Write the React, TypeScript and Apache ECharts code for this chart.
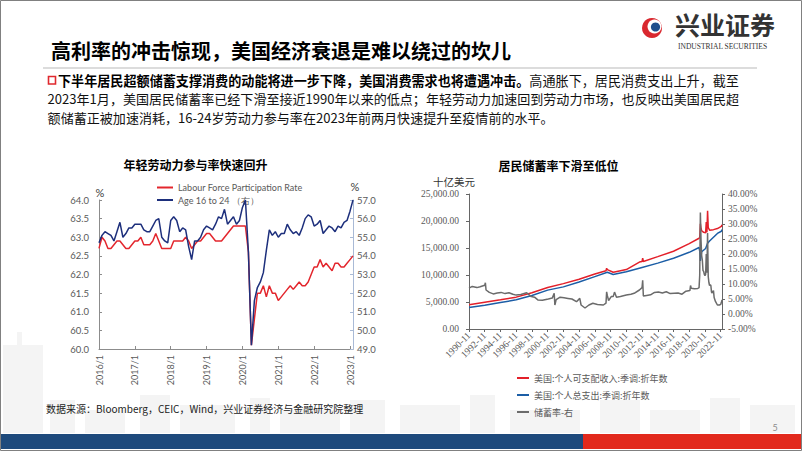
import React, { useEffect, useRef } from "react";
import * as echarts from "echarts";

const FONT = "'Noto Sans CJK SC', 'Noto Sans', sans-serif";
const SERIF = "'Liberation Serif', 'DejaVu Serif', serif";
const LAT = "Lato, 'Noto Sans', sans-serif";

// ---------- text ----------
const slideTitle = "高利率的冲击惊现，美国经济衰退是难以绕过的坎儿";
const para1Bold = "下半年居民超额储蓄支撑消费的动能将进一步下降，美国消费需求也将遭遇冲击。";
const para1Rest = "高通胀下，居民消费支出上升，截至";
const para2 = "2023年1月，美国居民储蓄率已经下滑至接近1990年以来的低点；年轻劳动力加速回到劳动力市场，也反映出美国居民超";
const para3 = "额储蓄正被加速消耗，16-24岁劳动力参与率在2023年前两月快速提升至疫情前的水平。";
const leftTitle = "年轻劳动力参与率快速回升";
const rightTitle = "居民储蓄率下滑至低位";
const sourceText = "数据来源：Bloomberg，CEIC，Wind，兴业证券经济与金融研究院整理";

// ---------- left chart ----------
const lfMonths: string[] = [];
for (let y = 2016; y <= 2023; y++) {
  for (let m = 1; m <= 12; m++) {
    if (y === 2023 && m > 2) break;
    lfMonths.push(`${y}/${m}`);
  }
}
const lfprName = "Labour Force Participation Rate";
const youthName = "Age 16 to 24 （右）";
const lfprTotal = [
  62.7, 63.0, 62.9, 62.7, 62.7, 62.8, 62.9, 62.9, 62.8, 62.7, 62.7, 62.8,
  62.9, 62.9, 63.0, 62.8, 62.8, 62.8, 62.9, 63.1, 62.9, 62.7, 62.7, 62.7,
  62.7, 62.9, 62.9, 62.9, 62.9, 63.0, 62.9, 62.7, 62.8, 62.9, 62.9, 63.0,
  63.1, 63.1, 63.0, 62.9, 62.9, 62.9, 63.0, 63.1, 63.2, 63.3, 63.3, 63.3,
  63.3, 63.3, 62.6, 60.1, 60.8, 61.5, 61.5, 61.7, 61.4, 61.7, 61.5, 61.5,
  61.3, 61.4, 61.5, 61.6, 61.7, 61.6, 61.7, 61.8, 61.7, 61.7, 61.8, 62.0,
  62.2, 62.2, 62.4, 62.2, 62.3, 62.2, 62.1, 62.3, 62.3, 62.2, 62.2, 62.3,
  62.4, 62.5,
];
const lfprYouth = [
  54.7, 55.1, 55.3, 55.2, 55.1, 54.8, 55.3, 55.8, 55.0, 55.2, 55.5, 55.5,
  55.7, 55.7, 55.7, 55.4, 55.3, 55.3, 55.6, 55.9, 56.0, 55.0, 54.8, 54.7,
  55.9, 56.1, 55.9, 55.3, 55.5, 55.4, 54.5, 53.8, 54.8, 54.8, 55.0, 55.4,
  55.6, 55.5, 55.4, 55.7, 56.1, 56.0, 56.5, 55.7, 55.9, 56.1, 55.7, 55.9,
  56.6, 57.0, 54.2, 49.2, 51.6, 52.3, 52.6, 53.1, 54.3, 55.4, 55.1, 55.3,
  55.0, 55.2, 55.2, 55.7, 55.4, 55.2, 55.3, 55.1, 55.5, 56.0, 56.2, 56.1,
  55.6, 55.7, 55.9, 55.2, 55.4, 55.6, 55.5, 55.3, 55.6, 55.5, 55.8, 55.9,
  56.4, 57.0,
];

// ---------- right chart ----------
const spMonths: string[] = [];
for (let y = 1990; y <= 2023; y++) {
  for (let m = 1; m <= 12; m++) {
    if (y === 1990 && m < 11) continue;
    if (y === 2023 && m > 1) break;
    spMonths.push(`${y}-${m < 10 ? "0" + m : m}`);
  }
}
const incomeName = "美国:个人可支配收入:季调:折年数";
const spendName = "美国:个人总支出:季调:折年数";
const savingName = "储蓄率-右";

const incomeDates = [
  "1990-11", "1992-11", "1994-11", "1996-11", "1998-11", "2000-11", "2002-11", "2004-11",
  "2006-11", "2008-04", "2008-05", "2008-06", "2009-03", "2009-07", "2010-11", "2012-07",
  "2012-11", "2012-12", "2013-01", "2014-11", "2016-11", "2018-11", "2020-02", "2020-03",
  "2020-04", "2020-05", "2020-06", "2020-09", "2020-12", "2021-01", "2021-02", "2021-03",
  "2021-04", "2021-06", "2021-12", "2022-06", "2022-12", "2023-01",
];
const incomeValues = [
  4500, 4950, 5400, 5900, 6700, 7700, 8400, 9200,
  10200, 10800, 11250, 11000, 10500, 10600, 11000, 12400,
  12500, 13100, 12500, 13400, 14400, 15800, 16800, 16900,
  19500, 18600, 18200, 17900, 17800, 19800, 17900, 21900,
  18800, 18300, 18400, 18600, 19000, 19300,
];
const spendDates = [
  "1990-11", "1992-11", "1994-11", "1996-11", "1998-11", "2000-11", "2002-11", "2004-11",
  "2006-11", "2008-06", "2009-03", "2010-11", "2012-11", "2014-11", "2016-11", "2018-11",
  "2020-02", "2020-03", "2020-04", "2020-05", "2020-06", "2020-12", "2021-03", "2021-06",
  "2021-12", "2022-06", "2022-12", "2023-01",
];
const spendValues = [
  4000, 4400, 4900, 5400, 6200, 7200, 7800, 8700,
  9700, 10500, 10100, 10600, 11400, 12200, 13100, 14200,
  15100, 14400, 12600, 13600, 14300, 14900, 15900, 16300,
  17000, 17700, 18100, 18400,
];
const savingDates = [
  "1990-11", "1991-04", "1991-11", "1992-04", "1992-11", "1992-12", "1993-01", "1993-06",
  "1993-12", "1994-06", "1994-12", "1995-06", "1995-12", "1996-06", "1996-11", "1997-06",
  "1998-03", "1998-10", "1999-03", "1999-08", "2000-03", "2000-12", "2001-06", "2001-09",
  "2001-10", "2001-12", "2002-06", "2002-12", "2003-06", "2003-12", "2004-07", "2004-12",
  "2005-02", "2005-08", "2006-02", "2006-08", "2007-03", "2007-12", "2008-04", "2008-05",
  "2008-06", "2008-08", "2008-12", "2009-03", "2009-05", "2009-08", "2010-02", "2010-11",
  "2011-06", "2011-11", "2012-07", "2012-11", "2012-12", "2013-01", "2013-06", "2013-12",
  "2014-06", "2014-12", "2015-06", "2015-12", "2016-06", "2016-12", "2017-06", "2017-12",
  "2018-06", "2018-12", "2019-01", "2019-02", "2019-07", "2019-12", "2020-02", "2020-03",
  "2020-04", "2020-05", "2020-06", "2020-07", "2020-08", "2020-09", "2020-10", "2020-11",
  "2020-12", "2021-01", "2021-02", "2021-03", "2021-04", "2021-05", "2021-06", "2021-07",
  "2021-08", "2021-09", "2021-10", "2021-11", "2021-12", "2022-01", "2022-03", "2022-06",
  "2022-09", "2022-11", "2022-12", "2023-01",
];
const savingValues = [
  8.6, 9.2, 8.8, 9.1, 9.6, 10.4, 8.0, 7.2,
  6.7, 7.0, 7.2, 6.8, 7.1, 6.6, 6.3, 6.5,
  7.1, 5.8, 5.6, 4.7, 4.6, 5.0, 5.3, 6.9,
  3.0, 4.8, 5.6, 5.4, 5.2, 5.0, 4.1, 5.2,
  3.0, 2.0, 3.0, 3.6, 3.2, 3.0, 3.6, 7.4,
  6.2, 4.5, 5.8, 5.8, 7.3, 5.6, 5.8, 6.3,
  6.6, 6.9, 8.0, 8.8, 11.2, 6.0, 6.2, 6.4,
  7.2, 7.3, 7.0, 7.4, 6.8, 6.9, 7.0, 6.6,
  7.6, 7.8, 9.5, 8.6, 8.4, 8.5, 8.8, 12.9,
  33.8, 24.5, 19.4, 18.0, 14.5, 14.2, 13.2, 12.8,
  13.2, 20.0, 13.8, 27.0, 12.5, 10.5, 9.5, 9.8,
  9.5, 7.3, 7.0, 7.5, 7.8, 5.5, 4.2, 3.0,
  3.0, 3.2, 3.8, 4.7,
];

const pairs = (d: string[], v: number[]) => d.map((x, i) => [x, v[i]]);

const skyline = [
  [3, 345, 40, 88], [17, 332, 5, 14], [50, 400, 25, 33], [85, 410, 40, 23], [140, 395, 30, 38],
  [180, 405, 55, 28], [250, 398, 20, 35], [280, 410, 60, 23], [350, 400, 35, 33], [400, 405, 60, 28],
  [470, 395, 25, 38], [510, 410, 70, 23], [600, 400, 40, 33], [650, 410, 50, 23], [710, 398, 30, 35],
  [750, 405, 45, 28],
];

function txt(x: number, y: number, text: string, font: string, fill: string, align = "left", extra: any = {}) {
  return {
    type: "text",
    x,
    y,
    z: 20,
    style: { text, font, fill, align, verticalAlign: "middle", textAlign: align, textVerticalAlign: "middle", ...extra },
  };
}

export default function App() {
  const ref = useRef<HTMLDivElement>(null);
  useEffect(() => {
    if (!ref.current) return;
    const chart = echarts.init(ref.current, undefined, { renderer: "svg" });
    const graphic: any[] = [
      ...skyline.map(([x, y, w, h]) => ({
        type: "rect", z: -1, shape: { x, y, width: w, height: h }, style: { fill: "#f4f4f4" },
      })),
      // logo
      { type: "circle", z: 20, shape: { cx: 652, cy: 28, r: 10 }, style: { fill: "#d9282f" } },
      { type: "circle", z: 21, shape: { cx: 654.5, cy: 26.5, r: 7 }, style: { fill: "#ffffff" } },
      { type: "circle", z: 22, shape: { cx: 655.5, cy: 27, r: 4.6 }, style: { fill: "#1f4e8c" } },
      txt(675, 23.5, "兴业证券", `bold 25px ${FONT}`, "#333333"),
      txt(678, 46, "INDUSTRIAL SECURITIES", `7.5px ${SERIF}`, "#333333"),
      // title
      txt(51, 50, slideTitle, `bold 20px ${FONT}`, "#000000"),
      { type: "line", z: 20, shape: { x1: 43, y1: 68, x2: 757, y2: 68 }, style: { stroke: "#d0d0d0", lineWidth: 1.5 } },
      // paragraph
      { type: "rect", z: 20, shape: { x: 48.5, y: 76.5, width: 7, height: 7.5 }, style: { fill: "none", stroke: "#e0282e", lineWidth: 1.6 } },
      {
        type: "text", x: 58, y: 80, z: 20,
        style: {
          text: `{b|${para1Bold}}{n|${para1Rest}}`,
          verticalAlign: "middle", textVerticalAlign: "middle",
          rich: {
            b: { fontSize: 13.1, fontWeight: "bold", fontFamily: FONT, fill: "#000000" },
            n: { fontSize: 13.1, fontFamily: FONT, fill: "#111111" },
          },
        },
      },
      txt(47.6, 98.5, para2, `13.05px ${FONT}`, "#111111"),
      txt(47.6, 117, para3, `13.05px ${FONT}`, "#111111"),
      // chart titles
      txt(195.5, 164, leftTitle, `bold 12px ${FONT}`, "#000000", "center"),
      txt(558.5, 165, rightTitle, `bold 12px ${FONT}`, "#000000", "center"),
      txt(100, 192.5, "%", `11px ${LAT}`, "#404040", "center"),
      txt(355, 186, "%", `11px ${LAT}`, "#404040", "center"),
      txt(433, 181, "十亿美元", `10.5px ${FONT}`, "#333333"),
      // footer
      txt(46, 408, sourceText, `10px ${FONT}`, "#222222"),
      txt(775, 427, "5", `9px ${LAT}`, "#8c8c8c", "center"),
      { type: "rect", z: 20, shape: { x: 0, y: 434, width: 583, height: 15 }, style: { fill: "#1e4a7c" } },
      { type: "rect", z: 20, shape: { x: 583, y: 434, width: 219, height: 15 }, style: { fill: "#e2291c" } },
      { type: "rect", z: 30, shape: { x: 0.5, y: 0.5, width: 801, height: 450 }, style: { fill: "none", stroke: "#808080", lineWidth: 1 } },
    ];

    const axisGray = "#8c8c8c";
    const option: any = {
      animation: false,
      backgroundColor: "#ffffff",
      textStyle: { fontFamily: FONT },
      grid: [
        { left: 99, top: 200, width: 254, height: 149, containLabel: false },
        { left: 469, top: 194, width: 253, height: 135, containLabel: false },
      ],
      legend: [
        {
          orient: "vertical", left: 152, top: 178, itemWidth: 16, itemHeight: 2, itemGap: 3.5, icon: "rect",
          textStyle: { fontSize: 9, color: "#595959", fontFamily: LAT },
          data: [lfprName, youthName],
        },
        {
          orient: "vertical", left: 512, top: 368.5, itemWidth: 12, itemHeight: 2, itemGap: 8, icon: "rect",
          textStyle: { fontSize: 9, color: "#595959", fontFamily: FONT },
          data: [incomeName, spendName, savingName],
        },
      ],
      xAxis: [
        {
          gridIndex: 0, type: "category", data: lfMonths, boundaryGap: false,
          axisLine: { show: true, lineStyle: { color: axisGray, width: 1 } },
          axisTick: { show: true, interval: 11, inside: true, length: 3, lineStyle: { color: axisGray } },
          axisLabel: { interval: 11, rotate: 90, fontSize: 9, color: "#595959", fontFamily: LAT, margin: 6 },
          splitLine: { show: false },
        },
        {
          gridIndex: 1, type: "category", data: spMonths, boundaryGap: false,
          axisLine: { show: true, lineStyle: { color: "#666666", width: 1 } },
          axisTick: { show: true, interval: 23, length: 3, lineStyle: { color: "#666666" } },
          axisLabel: { interval: 23, rotate: 45, fontSize: 9.5, color: "#595959", fontFamily: SERIF, margin: 5 },
          splitLine: { show: false },
        },
      ],
      yAxis: [
        {
          gridIndex: 0, type: "value", position: "left", min: 60, max: 64, interval: 0.5,
          axisLine: { show: true, lineStyle: { color: axisGray, width: 1 } },
          axisTick: { show: true, inside: true, length: 3, lineStyle: { color: axisGray } },
          axisLabel: { fontSize: 9.5, color: "#595959", fontFamily: LAT, margin: 10, formatter: (v: number) => v.toFixed(1) },
          splitLine: { show: false },
        },
        {
          gridIndex: 0, type: "value", position: "right", min: 49, max: 57, interval: 1,
          axisLine: { show: true, lineStyle: { color: "#a9bad6", width: 1 } },
          axisTick: { show: true, inside: true, length: 3, lineStyle: { color: "#a9bad6" } },
          axisLabel: { fontSize: 9.5, color: "#595959", fontFamily: LAT, margin: 4, formatter: (v: number) => v.toFixed(1) },
          splitLine: { show: false },
        },
        {
          gridIndex: 1, type: "value", position: "left", min: 0, max: 25000, interval: 5000,
          axisLine: { show: true, lineStyle: { color: "#666666", width: 1 } },
          axisTick: { show: true, length: 3, lineStyle: { color: "#666666" } },
          axisLabel: {
            fontSize: 9.5, color: "#595959", fontFamily: SERIF, margin: 10,
            formatter: (v: number) => v.toLocaleString("en-US", { minimumFractionDigits: 2, maximumFractionDigits: 2 }),
          },
          splitLine: { show: false },
        },
        {
          gridIndex: 1, type: "value", position: "right", min: -5, max: 40, interval: 5,
          axisLine: { show: true, lineStyle: { color: "#666666", width: 1 } },
          axisTick: { show: true, length: 3, lineStyle: { color: "#666666" } },
          axisLabel: { fontSize: 9.5, color: "#595959", fontFamily: SERIF, margin: 6, formatter: (v: number) => v.toFixed(2) + "%" },
          splitLine: { show: false },
        },
      ],
      series: [
        {
          name: lfprName, type: "line", xAxisIndex: 0, yAxisIndex: 0, data: lfprTotal, symbol: "none",
          color: "#e3262d", lineStyle: { width: 1.5, color: "#e3262d" }, z: 3,
        },
        {
          name: youthName, type: "line", xAxisIndex: 0, yAxisIndex: 1, data: lfprYouth, symbol: "none",
          color: "#1d2f7c", lineStyle: { width: 1.5, color: "#1d2f7c" }, z: 4,
        },
        {
          name: incomeName, type: "line", xAxisIndex: 1, yAxisIndex: 2, data: pairs(incomeDates, incomeValues), symbol: "none",
          color: "#e3202a", lineStyle: { width: 1.5, color: "#e3202a" }, z: 3,
        },
        {
          name: spendName, type: "line", xAxisIndex: 1, yAxisIndex: 2, data: pairs(spendDates, spendValues), symbol: "none",
          color: "#1c5ea6", lineStyle: { width: 1.5, color: "#1c5ea6" }, z: 4,
        },
        {
          name: savingName, type: "line", xAxisIndex: 1, yAxisIndex: 3, data: pairs(savingDates, savingValues), symbol: "none",
          color: "#6b6b6b", lineStyle: { width: 1.5, color: "#6b6b6b" }, z: 5,
        },
      ],
      graphic,
    };
    chart.setOption(option);
    return () => chart.dispose();
  }, []);
  return <div ref={ref} style={{ position: "absolute", left: 0, top: 0, width: 802, height: 451 }} />;
}
